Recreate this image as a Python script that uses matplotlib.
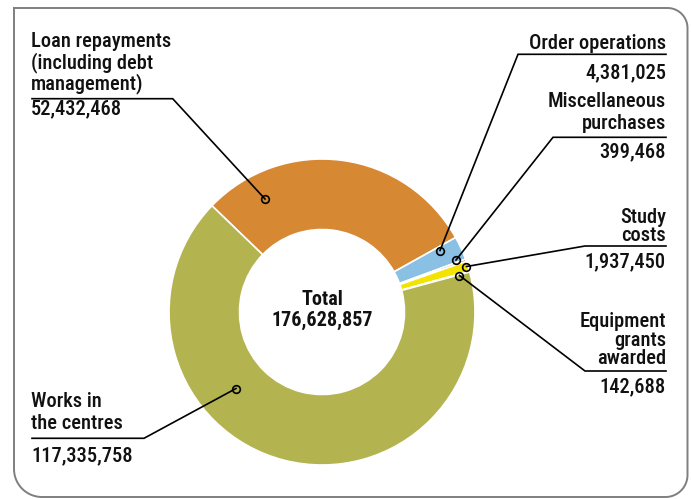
import numpy as np
import matplotlib
matplotlib.use("Agg")
import matplotlib.pyplot as plt
from matplotlib import font_manager

# ---- data ----
categories = ["Loan repayments\n(including debt\nmanagement)", "Order operations",
              "Miscellaneous\npurchases", "Study\ncosts",
              "Equipment\ngrants\nawarded", "Works in\nthe centres"]
values = [52432468, 4381025, 399468, 1937450, 142688, 117335758]
colors = ["#D78833", "#89C0E3", "#E0303A", "#F2E400", "#2F5C8E", "#B3B450"]
total_title = "Total"
total_value = 176628857

W, H = 691, 499
fig = plt.figure(figsize=(W / 100, H / 100), dpi=100)
ax = fig.add_axes([0, 0, 1, 1])

# ---- font selection: prefer a condensed face ----
fl = font_manager.fontManager.ttflist
names = {f.name for f in fl}
font_kw = None
for cand in ["Roboto Condensed", "Open Sans Condensed", "Liberation Sans Narrow"]:
    if cand in names:
        font_kw = dict(family=[cand, "DejaVu Sans"])
        break
if font_kw is None:
    if "Roboto" in names:
        font_kw = dict(family=["Roboto", "DejaVu Sans"])
    else:
        font_kw = dict(family=["DejaVu Sans"])

def Y(py):
    return H - py

cx, cy = 322, Y(312)
R, r_in = 153, 82.5
ax.pie(values, colors=colors, startangle=136, counterclock=False, radius=R,
       center=(cx, cy), frame=True,
       wedgeprops=dict(width=R - r_in, edgecolor="white", linewidth=1.2))
ax.set_xlim(0, W)
ax.set_ylim(0, H)
ax.set_aspect("equal")
ax.axis("off")

# border (rounded rectangle, top-left corner square)
x0, x1, y0, y1 = 14, 687.5, 8, 497
def arc(cxp, cyp, rr, a0, a1, n=20):
    t = np.radians(np.linspace(a0, a1, n))
    return list(zip(cxp + rr * np.cos(t), Y(cyp) + rr * np.sin(t)))
pts = [(x0, Y(y0))]
rtr, rbr, rbl = 20, 22, 28
pts += arc(x1 - rtr, y0 + rtr, rtr, 90, 0)
pts += arc(x1 - rbr, y1 - rbr, rbr, 0, -90)
pts += arc(x0 + rbl, y1 - rbl, rbl, -90, -180)
pts += [(x0, Y(y0))]
px, py = zip(*pts)
ax.plot(px, py, color="#7f7f7f", lw=1.4, solid_joinstyle="round", clip_on=False)

fs = 14.8
lab_kw = dict(fontsize=fs, color="#111111", fontweight="medium", **font_kw)

def label(text, value, x, ha, baselines, under_y, val_base, x_line, x_end, dot):
    for line, b in zip(text.split("\n"), baselines):
        ax.text(x, Y(b), line, ha=ha, va="baseline", **lab_kw)
    ax.text(x, Y(val_base), value, ha=ha, va="baseline", **lab_kw)
    ax.plot([x_end, x_line, dot[0]], [Y(under_y), Y(under_y), Y(dot[1])],
            color="black", lw=1.2, solid_joinstyle="miter")
    ax.plot(dot[0], Y(dot[1]), "o", ms=5.5, mfc="none", mec="black", mew=1.2)

fmt = lambda v: f"{v:,}"
label(categories[0], fmt(values[0]), 31, "left", [46.7, 68, 89], 98.7, 114.5, 172.7, 32, (265, 199))
label(categories[1], fmt(values[1]), 666, "right", [49], 54.3, 78, 518, 666, (440, 250.5))
label(categories[2], fmt(values[2]), 666, "right", [107, 128.5], 137.3, 157, 553, 666, (456, 260))
label(categories[3], fmt(values[3]), 666, "right", [223, 240.5], 246, 267, 585, 666, (466.5, 266.5))
label(categories[4], fmt(values[4]), 666, "right", [327, 346, 364.5], 371, 392, 585, 666, (459.5, 275.5))
label(categories[5], fmt(values[5]), 31, "left", [407.3, 429.3], 438.3, 461, 144, 32, (236, 388.5))

tot_kw = dict(fontsize=14.5, fontweight="bold", color="#111111", ha="center", va="baseline", **font_kw)
ax.text(cx, Y(305), total_title, **tot_kw)
ax.text(cx, Y(326), fmt(total_value), **tot_kw)

fig.savefig("out.png", dpi=100)
